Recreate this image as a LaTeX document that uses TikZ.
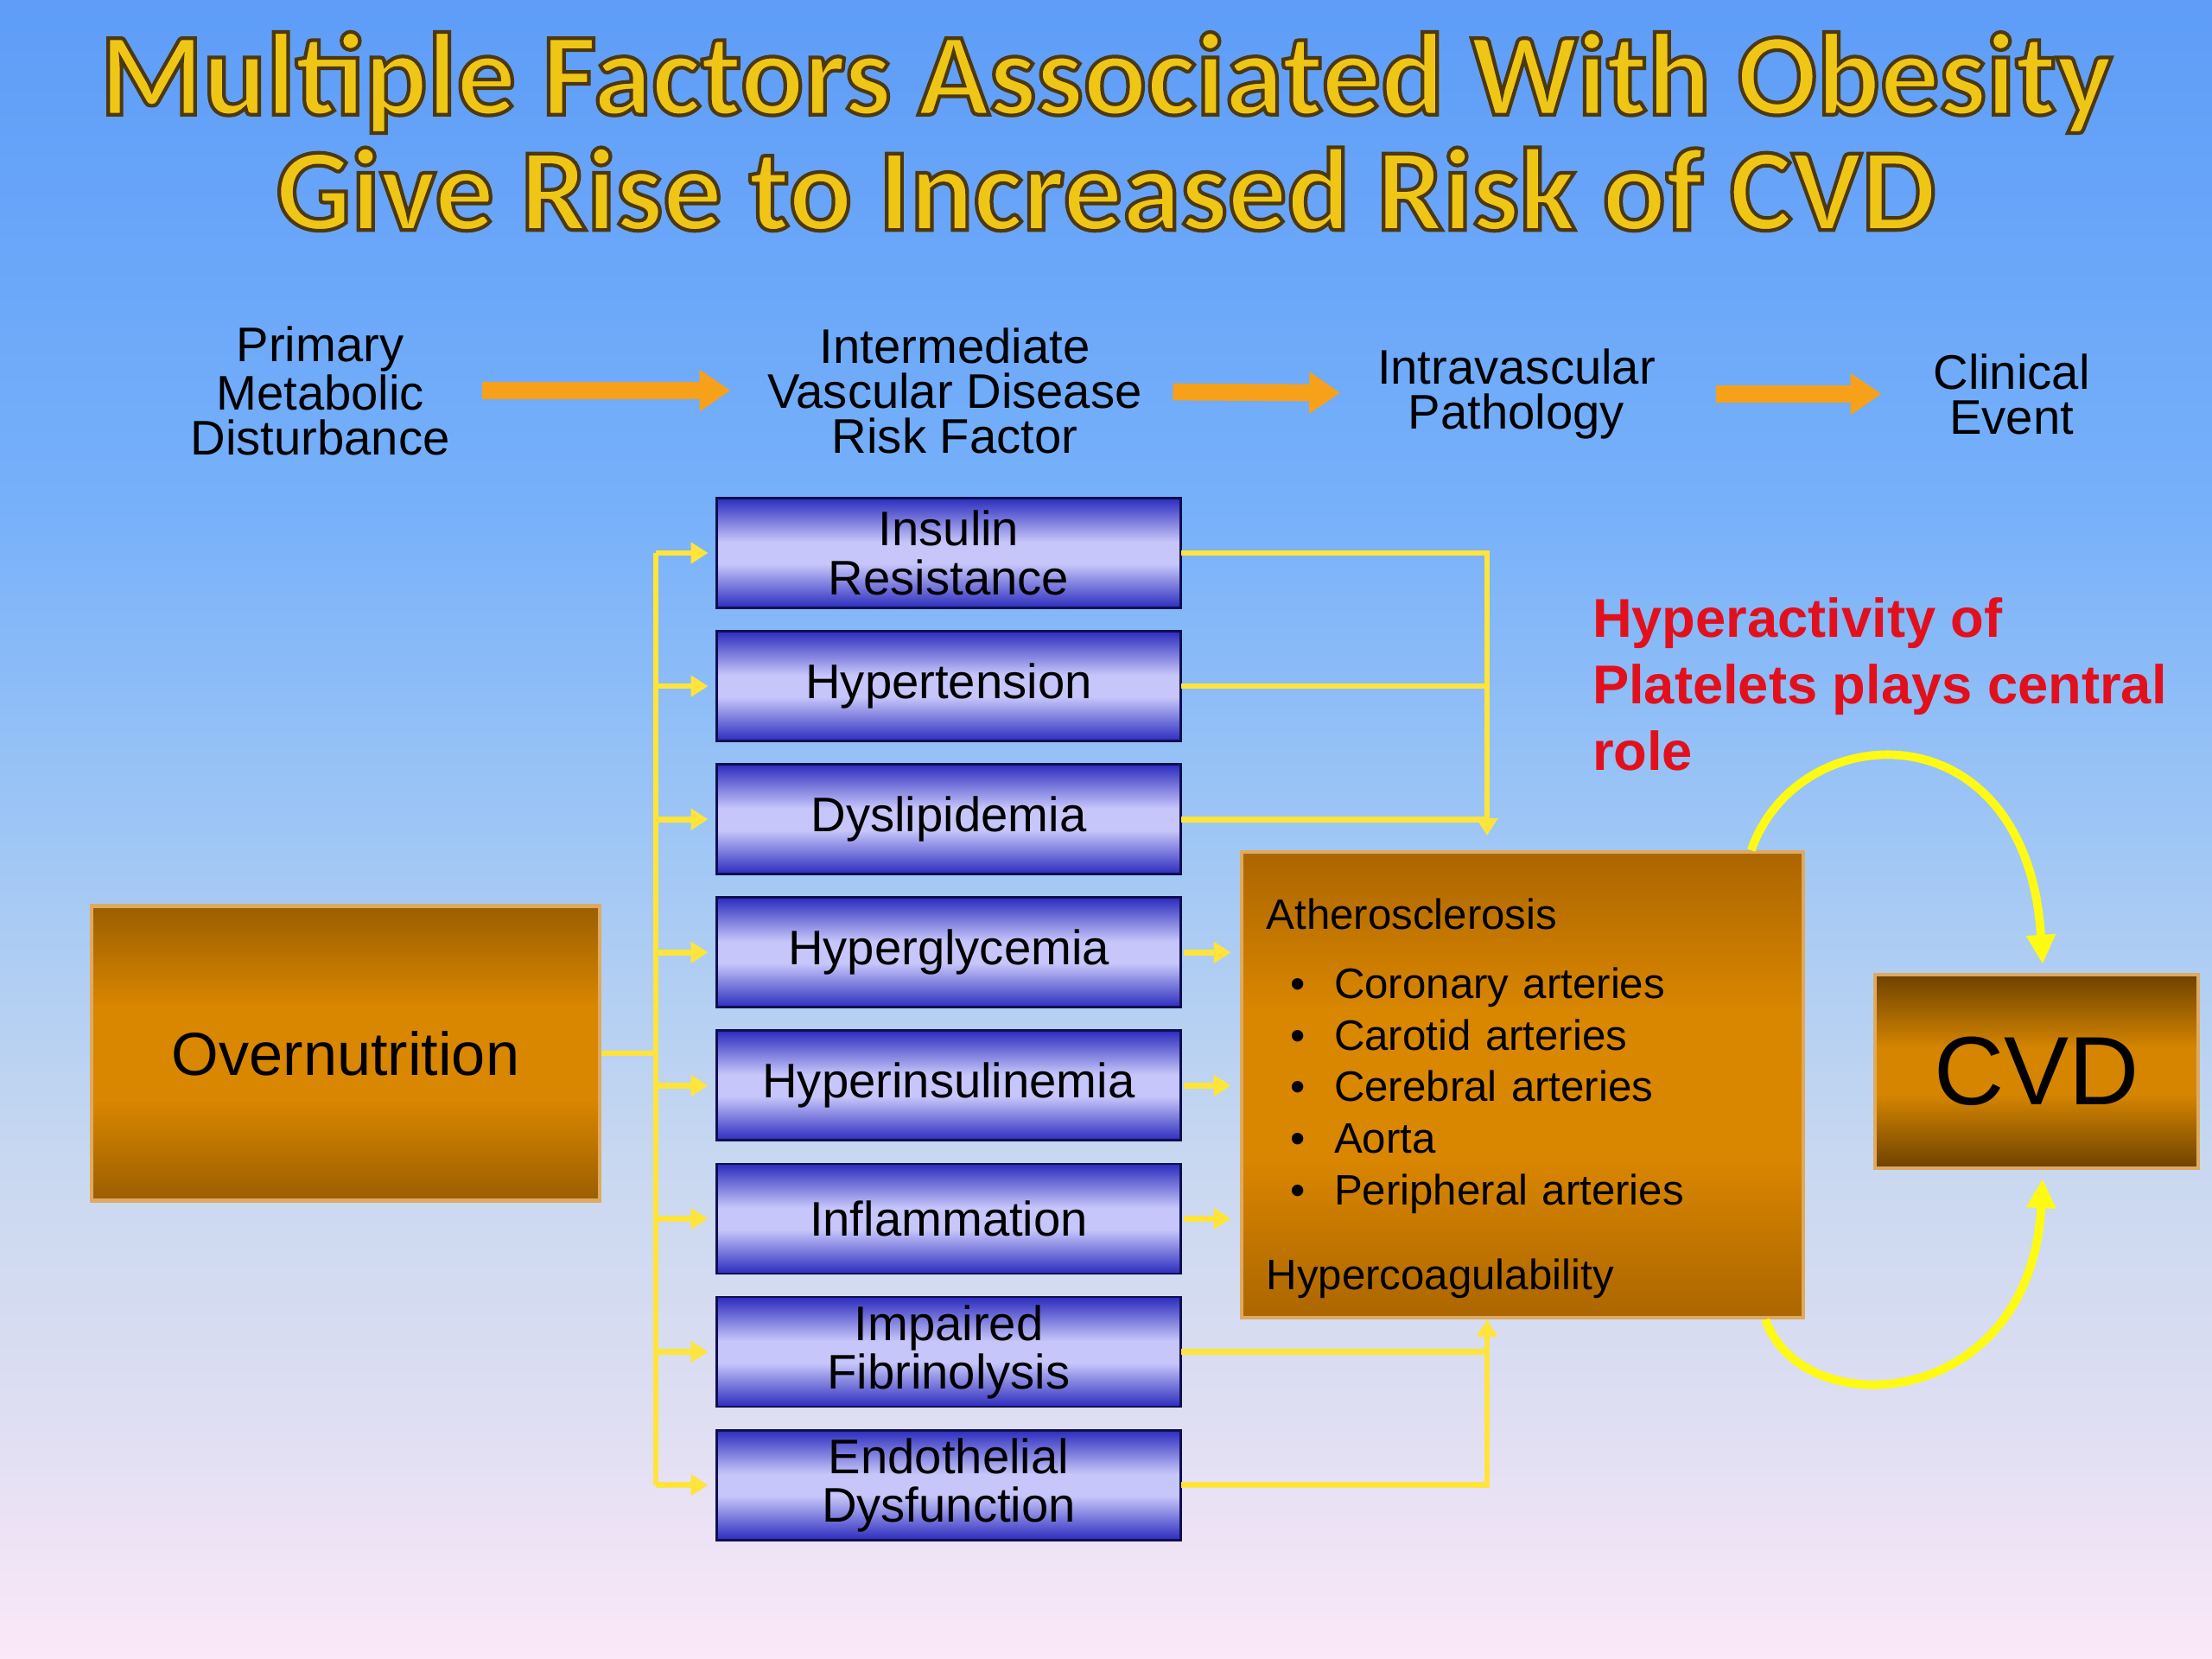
\documentclass[tikz,border=0pt]{standalone}
\usepackage{xcolor}
\usepackage{fontspec}
\setmainfont{Liberation Sans}
\newfontfamily\titlefont{Carlito}
\usepackage{tikz}
\usetikzlibrary{positioning, arrows.meta, shapes}

\definecolor{bgtop}{RGB}{94,157,248}
\definecolor{bgblue}{RGB}{118,176,250}
\definecolor{bgsky}{RGB}{158,198,245}
\definecolor{bgmid}{RGB}{200,216,240}
\definecolor{bglav}{RGB}{222,222,242}
\definecolor{bgbot}{RGB}{251,232,248}
\definecolor{bardark}{RGB}{44,44,190}
\definecolor{barlight}{RGB}{198,198,250}
\definecolor{barline}{RGB}{15,15,80}
\definecolor{ochredark}{RGB}{155,94,0}
\definecolor{ochrelight}{RGB}{217,134,0}
\definecolor{ochreline}{RGB}{222,170,95}
\definecolor{atherdark}{RGB}{172,102,0}
\definecolor{cvddark}{RGB}{110,66,0}
\definecolor{cvdlight}{RGB}{213,133,0}
\definecolor{hdrorange}{RGB}{247,160,25}
\definecolor{connyellow}{RGB}{255,228,60}
\definecolor{arcyellow}{RGB}{255,250,20}
\definecolor{titlegold}{RGB}{240,198,22}
\definecolor{notered}{RGB}{226,16,28}

\pgfdeclareverticalshading{bgfade}{100bp}{color(0bp)=(bgbot); color(25bp)=(bgbot); color(32.5bp)=(bglav); color(40bp)=(bgmid); color(50bp)=(bgsky); color(60bp)=(bgblue); color(75bp)=(bgtop); color(100bp)=(bgtop)}
\pgfdeclareverticalshading{bluebar}{100bp}{color(0bp)=(bardark); color(25bp)=(bardark); color(45bp)=(barlight); color(55bp)=(barlight); color(75bp)=(bardark); color(100bp)=(bardark)}
\pgfdeclareverticalshading{ochrebar}{100bp}{color(0bp)=(ochredark); color(25bp)=(ochredark); color(42bp)=(ochrelight); color(58bp)=(ochrelight); color(75bp)=(ochredark); color(100bp)=(ochredark)}
\pgfdeclareverticalshading{atherbar}{100bp}{color(0bp)=(atherdark); color(25bp)=(atherdark); color(42bp)=(ochrelight); color(58bp)=(ochrelight); color(75bp)=(atherdark); color(100bp)=(atherdark)}
\pgfdeclareverticalshading{cvdbar}{100bp}{color(0bp)=(cvddark); color(25bp)=(cvddark); color(44bp)=(cvdlight); color(56bp)=(cvdlight); color(75bp)=(cvddark); color(100bp)=(cvddark)}

% dark rim round the title letters
\newcommand{\rimon}{\special{pdf:literal direct 0.30 0.22 0.05 RG 1.2 w 2 Tr}}
\newcommand{\rimoff}{\special{pdf:literal direct 0 Tr}}

\begin{document}
\begin{tikzpicture}[node distance=0.271cm, semithick,
    >={Triangle[length=0.2cm,width=0.24cm]},
    risk_box/.style={draw=barline, line width=0.8pt, outer sep=0pt, shade, shading=bluebar, minimum width=5.37cm, minimum height=1.27cm, inner sep=0pt, align=center, font=\fontsize{16}{16}\selectfont},
    ochre_box/.style={draw=ochreline, line width=1.2pt, shade, shading=ochrebar},
    header/.style={align=center, font=\fontsize{16}{14.8}\selectfont},
    hdr_arrow/.style={draw=hdrorange, line width=5.6pt, -{Triangle[length=0.36cm,width=0.46cm]}},
    conn/.style={draw=connyellow, line width=1.9pt},
    loop_arrow/.style={draw=arcyellow, line width=2.8pt, -{Triangle[length=0.34cm,width=0.32cm]}}]
  \shade[shading=bgfade] (0,0) rectangle (25.6,19.2);
  \useasboundingbox (0,0) rectangle (25.6,19.2);

  % title
  \node[align=center, text=titlegold, font=\titlefont\bfseries\fontsize{38.8}{38}\selectfont] (title) at (12.8,17.68) {\rimon Multiple Factors Associated With Obesity\\Give Rise to Increased Risk of CVD\rimoff};

  % column headers
  \node[header] (prim_dist) at (3.706,14.68) {Primary\\Metabolic\\Disturbance};
  \node[header] (inter_risk) at (11.05,14.68) {Intermediate\\Vascular Disease\\Risk Factor};
  \node[header] (intra_path) at (17.55,14.64) {Intravascular\\Pathology};
  \node[header] (clin_event) at (23.28,14.64) {Clinical\\Event};
  \draw[hdr_arrow, shorten <=0.25cm, shorten >=0.3cm] (prim_dist) -- (inter_risk);
  \draw[hdr_arrow, shorten <=0.23cm, shorten >=0.3cm] (inter_risk) -- (intra_path);
  \draw[hdr_arrow, shorten <=0.57cm, shorten >=0.47cm] (intra_path) -- (clin_event);

  % risk factors
  \node[risk_box] (insulin_res) at (10.98,12.80) {Insulin\\Resistance};
  \node[risk_box] (hypertension) [below=of insulin_res] {Hypertension};
  \node[risk_box] (dyslipidemia) [below=of hypertension] {Dyslipidemia};
  \node[risk_box] (hyperglycemia) [below=of dyslipidemia] {Hyperglycemia};
  \node[risk_box] (hyperinsulinemia) [below=of hyperglycemia] {Hyperinsulinemia};
  \node[risk_box] (inflammation) [below=of hyperinsulinemia] {Inflammation};
  \node[risk_box] (impaired_fib) [below=of inflammation] {Impaired\\Fibrinolysis};
  \node[risk_box] (endo_dys) [below=of impaired_fib] {Endothelial\\Dysfunction};

  \node[ochre_box, minimum width=5.88cm, minimum height=3.41cm, font=\fontsize{20}{24}\selectfont] (overnut) at (4.0,7.01) {Overnutrition};
  \node[ochre_box, shading=atherbar, text width=5.92cm, inner xsep=0.29cm, minimum height=5.39cm, align=left, font=\fontsize{14}{17}\selectfont] (ather) at (17.617,6.644) {\rule{0pt}{19pt}Atherosclerosis\\[5.7pt]
    \hspace*{0.275cm}\textbullet\hspace*{0.337cm}Coronary arteries\\
    \hspace*{0.275cm}\textbullet\hspace*{0.337cm}Carotid arteries\\
    \hspace*{0.275cm}\textbullet\hspace*{0.337cm}Cerebral arteries\\
    \hspace*{0.275cm}\textbullet\hspace*{0.337cm}Aorta\\
    \hspace*{0.275cm}\textbullet\hspace*{0.337cm}Peripheral arteries\\[10.8pt]
    Hypercoagulability};
  \node[ochre_box, shading=cvdbar, minimum width=3.74cm, minimum height=2.24cm, font=\fontsize{32}{36}\selectfont] (cvd) at (23.57,6.80) {CVD};

  \node[anchor=west, align=left, inner sep=0pt, text=notered, font=\bfseries\fontsize{18}{22}\selectfont] (platelet_note) at (18.42,11.28) {Hyperactivity of\\Platelets plays central\\role};

  % yellow connectors
  \coordinate (lbus) at (7.59,0);
  \coordinate (rbus) at (17.21,0);
  \draw[conn] (overnut) -- (overnut -| lbus);
  \draw[conn] (insulin_res -| lbus) -- (endo_dys -| lbus);
  \foreach \n in {insulin_res,hypertension,dyslipidemia,hyperglycemia,hyperinsulinemia,inflammation,impaired_fib,endo_dys}
    \draw[conn, ->, shorten >=0.1cm] (\n -| lbus) -- (\n.west);
  \draw[conn, ->, shorten >=0.17cm] (insulin_res.east) -- (insulin_res -| rbus) -- (ather.north -| rbus);
  \draw[conn] (hypertension.east) -- (hypertension -| rbus);
  \draw[conn] (dyslipidemia.east) -- (dyslipidemia -| rbus);
  \foreach \n in {hyperglycemia,hyperinsulinemia,inflammation}
    \draw[conn, ->, shorten <=0.03cm, shorten >=0.1cm] (\n.east) -- (\n -| ather.west);
  \draw[conn] (impaired_fib.east) -- (impaired_fib -| rbus);
  \draw[conn, ->] (endo_dys.east) -- (endo_dys -| rbus) -- (ather.south -| rbus);

  % platelet loop
  \draw[loop_arrow] ([xshift=-0.62cm]ather.north east) to[out=71, in=93.5, out distance=1.65cm, in distance=3.0cm] ([xshift=0.07cm,yshift=0.1cm]cvd.north);
  \draw[loop_arrow] ([xshift=-0.456cm]ather.south east) to[out=-71, in=-93, out distance=1.3cm, in distance=2.7cm] ([xshift=0.07cm,yshift=-0.1cm]cvd.south);
\end{tikzpicture}
\end{document}
